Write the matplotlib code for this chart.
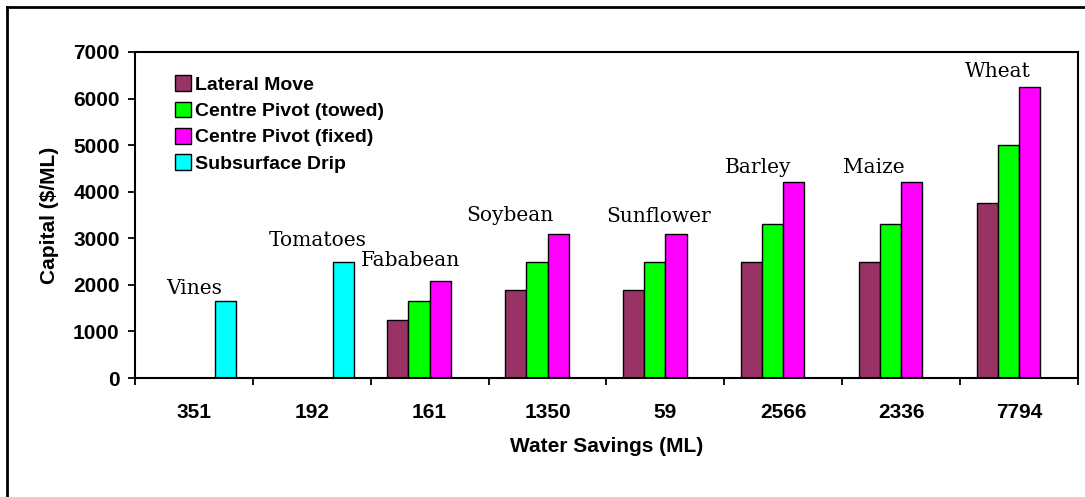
import matplotlib
matplotlib.use("Agg")
import matplotlib.pyplot as plt
from matplotlib.lines import Line2D
import numpy as np

# water savings (ML) per crop, used as category labels
savings = ["351", "192", "161", "1350", "59", "2566", "2336", "7794"]
crops = ["Vines", "Tomatoes", "Fababean", "Soybean", "Sunflower",
         "Barley", "Maize", "Wheat"]

# capital cost ($/ML), nan = system not used for that crop
lateral_move = [np.nan, np.nan, 1250, 1900, 1900, 2500, 2500, 3750]
pivot_towed = [np.nan, np.nan, 1650, 2500, 2500, 3300, 3300, 5000]
pivot_fixed = [np.nan, np.nan, 2080, 3100, 3100, 4200, 4200, 6250]
subsurface_drip = [1650, 2500, np.nan, np.nan, np.nan, np.nan, np.nan, np.nan]

series = [("Lateral Move", lateral_move, "#993366"),
          ("Centre Pivot (towed)", pivot_towed, "#00ff00"),
          ("Centre Pivot (fixed)", pivot_fixed, "#ff00ff"),
          ("Subsurface Drip", subsurface_drip, "#00ffff")]

# crop label anchor positions (category units, $/ML)
label_x = [0.0, 1.05, 1.84, 2.68, 3.94, 4.79, 5.77, 6.82]
label_y = [1930, 2960, 2530, 3480, 3470, 4510, 4510, 6590]

fig = plt.figure(figsize=(10.85, 4.97), dpi=100)
ax = fig.add_axes([0.1244, 0.2394, 0.8691, 0.656])

x = np.arange(len(savings))
width = 0.18
for i, (name, vals, col) in enumerate(series):
    vals = np.array(vals, dtype=float)
    ok = ~np.isnan(vals)
    ax.bar(x[ok] + (i - 1.5) * width, vals[ok], width, color=col,
           edgecolor="black", linewidth=1, label=name)

for cx, cy, name in zip(label_x, label_y, crops):
    ax.text(cx, cy, name, ha="center", va="center", fontsize=14.5,
            family="DejaVu Serif")

ax.set_xlim(-0.5, len(savings) - 0.5)
ax.set_ylim(0, 7000)
ax.set_yticks(np.arange(0, 7001, 1000))
ax.set_xticks(x)
ax.set_xticklabels(savings)
ax.set_xticks(np.arange(-0.5, len(savings), 1.0), minor=True)
ax.tick_params(axis="x", which="major", length=0, pad=18)
ax.tick_params(axis="x", which="minor", length=5, width=1.3)
ax.tick_params(axis="y", length=5, width=1.3, pad=6)
for lab in ax.get_xticklabels() + ax.get_yticklabels():
    lab.set_fontweight("bold")
    lab.set_fontsize(15)
    lab.set_family("Liberation Sans")

for sp in ax.spines.values():
    sp.set_linewidth(1.5)

ax.set_xlabel("Water Savings (ML)", fontsize=15, fontweight="bold",
              family="Liberation Sans", labelpad=11)
ax.set_ylabel("Capital ($/ML)", fontsize=15, fontweight="bold",
              family="Liberation Sans", labelpad=10)

leg = ax.legend(loc="upper left", bbox_to_anchor=(0.034, 0.953), frameon=False,
                prop={"family": "Liberation Sans", "weight": "bold", "size": 14},
                handlelength=0.85, handleheight=0.85, handletextpad=0.2,
                labelspacing=0.41, borderaxespad=0)

# outer frame (left and top edges only visible)
fig.add_artist(Line2D([7 / 1085, 7 / 1085], [0, 1 - 7 / 497], color="black",
                      linewidth=2, transform=fig.transFigure))
fig.add_artist(Line2D([7 / 1085, 1], [1 - 7 / 497, 1 - 7 / 497], color="black",
                      linewidth=2, transform=fig.transFigure))

fig.savefig("out.png", dpi=100)
